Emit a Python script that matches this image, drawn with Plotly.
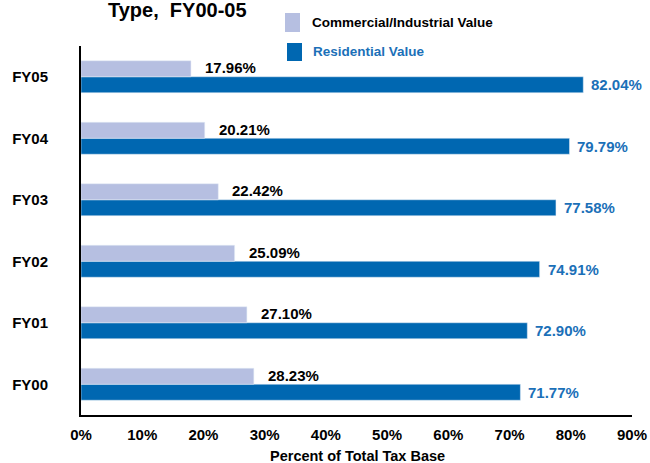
import plotly.graph_objects as go

# Share of total tax base by property type
years = ["FY00", "FY01", "FY02", "FY03", "FY04", "FY05"]
commercial = [28.23, 27.10, 25.09, 22.42, 20.21, 17.96]
residential = [71.77, 72.90, 74.91, 77.58, 79.79, 82.04]
x_ticks = [0, 10, 20, 30, 40, 50, 60, 70, 80, 90]

LIGHT = "#b6bfe1"
DARK = "#0067b1"
BLUE_TXT = "#1b70b8"
FONT = "Liberation Sans, Arial, sans-serif"

W, H = 650, 463
ML, MR, MT, MB = 81, 18, 46, 48
PW = W - ML - MR
PH = H - MT - MB


def px(xp):
    return (xp - ML) / PW


def py(yp):
    return (H - MB - yp) / PH


fig = go.Figure()
# residential added first so it sits below commercial in each group
fig.add_trace(go.Bar(y=years, x=residential, orientation="h", marker_color=DARK,
                     name="Residential Value", showlegend=False))
fig.add_trace(go.Bar(y=years, x=commercial, orientation="h", marker_color=LIGHT,
                     name="Commercial/Industrial Value", showlegend=False))

annotations = []
for yr, c, r in zip(years, commercial, residential):
    annotations.append(dict(x=c, y=yr, xref="x", yref="y", text=f"<b>{c:.2f}%</b>",
                            showarrow=False, xanchor="left", yanchor="middle",
                            xshift=12, yshift=9, font=dict(family=FONT, size=15, color="black")))
    annotations.append(dict(x=r, y=yr, xref="x", yref="y", text=f"<b>{r:.2f}%</b>",
                            showarrow=False, xanchor="left", yanchor="middle",
                            xshift=6, yshift=-8, font=dict(family=FONT, size=15, color=BLUE_TXT)))

# title (its first line runs off the top of the page)
annotations.append(dict(x=px(177), y=py(10), xref="paper", yref="paper",
                        text="<b>Type,&nbsp; FY00-05</b>", showarrow=False,
                        xanchor="center", yanchor="middle",
                        font=dict(family=FONT, size=20, color="black")))

# x-axis title
annotations.append(dict(x=px(357), y=py(456), xref="paper", yref="paper", showarrow=False,
                        xanchor="center", yanchor="middle", text="<b>Percent of Total Tax Base</b>",
                        font=dict(family=FONT, size=14.5, color="black")))

# legend drawn as swatches + labels in paper space
annotations.append(dict(x=px(310), y=py(23), xref="paper", yref="paper", showarrow=False,
                        xanchor="left", yanchor="middle", text="<b>Commercial/Industrial Value</b>",
                        font=dict(family=FONT, size=13.5, color="black")))
annotations.append(dict(x=px(311), y=py(52), xref="paper", yref="paper", showarrow=False,
                        xanchor="left", yanchor="middle", text="<b>Residential Value</b>",
                        font=dict(family=FONT, size=13.5, color=BLUE_TXT)))

shapes = [
    dict(type="rect", xref="paper", yref="paper", x0=px(285), x1=px(300), y0=py(32), y1=py(13),
         fillcolor=LIGHT, line_width=0),
    dict(type="rect", xref="paper", yref="paper", x0=px(287), x1=px(302), y0=py(61), y1=py(43),
         fillcolor=DARK, line_width=0),
]

fig.update_layout(
    width=W, height=H,
    margin=dict(l=ML, r=MR, t=MT, b=MB),
    paper_bgcolor="white", plot_bgcolor="white",
    barmode="group", bargap=0.48, bargroupgap=0,
    font=dict(family=FONT, size=15, color="black"),
    xaxis=dict(range=[0, 90], tickvals=x_ticks, ticktext=[f"<b>{v}%</b>" for v in x_ticks],
               automargin=False,
               showgrid=False, zeroline=False, showline=True, linecolor="black", linewidth=2,
               ticks="outside", ticklen=5, tickcolor="rgba(0,0,0,0)",
               tickfont=dict(family=FONT, size=15, color="black")),
    yaxis=dict(categoryorder="array", categoryarray=years, range=[-0.5, 5.5],
               ticktext=[f"<b>{y}</b>" for y in years], tickvals=years,
               automargin=False,
               showgrid=False, zeroline=False, showline=True, linecolor="black", linewidth=2,
               ticks="outside", ticklen=28, tickcolor="rgba(0,0,0,0)",
               tickfont=dict(family=FONT, size=15, color="black")),
    annotations=annotations,
    shapes=shapes,
)

fig.write_html("out.html")
